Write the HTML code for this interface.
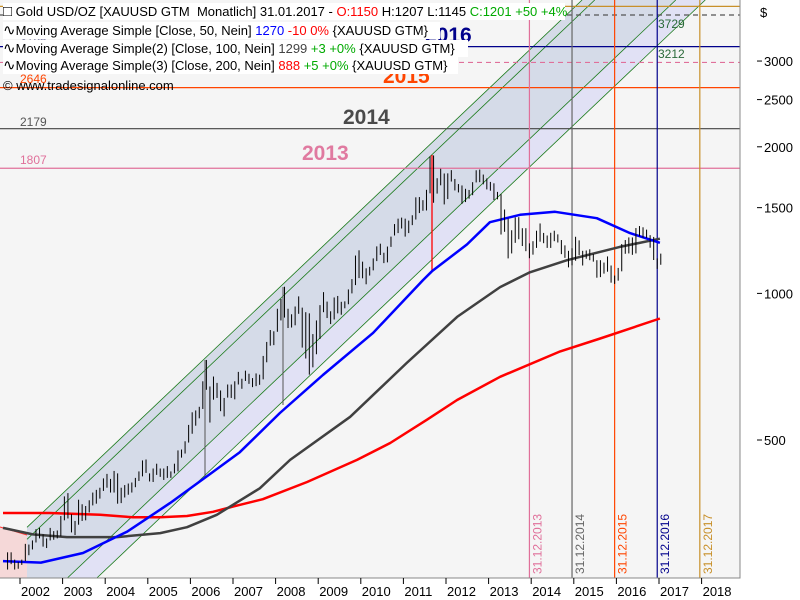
<!DOCTYPE html>
<html><head><meta charset="utf-8"><style>
html,body{margin:0;padding:0;background:#fff;width:800px;height:600px;overflow:hidden;position:relative;}
svg{display:block;font-family:"Liberation Sans",Arial,sans-serif;}
.ic{font-size:15px;}
</style></head><body>
<svg id="chart" width="800" height="600" viewBox="0 0 800 600" xmlns="http://www.w3.org/2000/svg">
<defs><clipPath id="plotclip"><rect x="0" y="0" width="740" height="578"/></clipPath></defs>
<rect x="0" y="0" width="800" height="600" fill="#ffffff"/>
<rect x="0" y="0" width="740" height="578" fill="#f5f5f5"/>
<g id="plot" clip-path="url(#plotclip)"></g>
<g id="axes"></g>
</svg>
<script>
// ---- data ----
var startYear = 2001, startMonth = 8; // Sep 2001 (0-based month)
var closes = [293,279,275,277,
282,297,302,308,326,318,304,312,324,317,318,347,
367,347,334,337,361,346,354,375,388,384,398,416,
400,396,423,388,394,395,391,408,416,428,452,438,
423,434,427,436,418,437,429,433,469,470,495,513,
568,556,582,654,643,613,633,624,599,604,646,632,
650,665,663,680,659,650,666,673,743,789,783,834,
923,972,916,865,885,930,912,834,884,730,815,869,
928,942,916,887,979,927,954,955,1008,1040,1182,1097,
1081,1118,1113,1179,1213,1244,1181,1248,1308,1357,1385,1421,
1332,1410,1439,1556,1536,1500,1628,1826,1620,1722,1746,1565,
1738,1697,1668,1664,1562,1604,1622,1690,1772,1719,1714,1675,
1663,1578,1595,1472,1393,1234,1313,1396,1326,1323,1253,1202,
1244,1326,1284,1296,1250,1327,1282,1287,1210,1172,1182,1199,
1279,1212,1183,1184,1190,1172,1095,1134,1115,1142,1065,1061,
1118,1238,1233,1292,1215,1321,1351,1309,1316,1277,1173,1146,
1201];
var opens0 = 273;
var highs = [294,294,284,281,
284,306,305,311,328,330,320,314,330,325,326,349,
383,389,352,341,377,369,366,376,390,395,399,417,
426,416,432,427,399,404,407,409,418,431,454,456,
427,437,447,437,437,442,431,447,476,478,497,537,
570,575,585,660,730,644,675,655,632,610,650,650,
660,690,668,694,684,670,685,681,744,795,841,836,
930,974,1032,930,906,940,986,935,915,910,825,880,
946,1006,962,919,981,988,961,963,1019,1070,1196,1226,
1162,1126,1134,1180,1249,1265,1212,1248,1308,1388,1424,1431,
1424,1411,1447,1575,1577,1554,1632,1911,1920,1724,1803,1763,
1764,1791,1718,1677,1666,1640,1631,1692,1790,1796,1754,1722,
1694,1683,1616,1599,1487,1424,1348,1433,1434,1361,1361,1267,
1280,1345,1392,1331,1315,1332,1345,1322,1287,1255,1223,1238,
1307,1285,1223,1225,1232,1205,1170,1170,1157,1191,1141,1088,
1128,1263,1287,1303,1303,1362,1375,1367,1352,1317,1306,1180,
1207];
var lows = [271,278,271,272,
277,282,290,298,308,314,302,300,311,312,314,317,
342,345,323,319,335,341,342,355,367,370,379,393,
399,390,390,370,371,381,386,390,400,412,421,428,
411,410,424,420,414,418,418,427,431,460,469,494,
515,535,554,579,634,543,605,610,573,559,611,610,
606,650,637,661,652,642,645,649,666,722,781,783,
834,880,892,849,851,860,908,774,735,681,705,750,
806,915,890,865,884,910,904,932,950,1000,1040,1075,
1074,1044,1088,1115,1165,1199,1154,1158,1246,1315,1330,1359,
1308,1330,1381,1418,1462,1478,1480,1605,1535,1603,1667,1523,
1562,1697,1627,1612,1527,1540,1565,1591,1690,1692,1675,1635,
1625,1555,1560,1321,1338,1180,1208,1270,1292,1251,1221,1181,
1201,1240,1277,1268,1240,1240,1280,1272,1204,1183,1131,1142,
1167,1198,1141,1178,1170,1162,1077,1080,1098,1108,1052,1046,
1062,1110,1206,1208,1200,1208,1310,1301,1301,1241,1171,1123,
1145];
var ma50Dates = [2001.60,2002.49,2003.48,2004.51,2005.52,2006.53,2007.16,2008.10,2009.11,2010.29,2011.46,2011.67,2012.49,2013.03,2013.74,2014.56,2015.54,2016.32,2017.02];
var ma50Values = [282,280,293,324,371,430,472,568,680,830,1065,1110,1260,1400,1450,1471,1427,1330,1270];
var ma100Dates = [2001.60,2002.30,2003.10,2004.28,2005.29,2005.92,2006.62,2007.63,2008.34,2009.75,2011.08,2012.26,2013.27,2013.97,2014.84,2016.08,2017.02];
var ma100Values = [330,320,316,316,322,331,351,398,455,558,720,895,1030,1105,1170,1246,1295];
var ma200Dates = [2001.60,2002.70,2003.88,2004.65,2005.29,2005.92,2006.53,2007.00,2007.70,2008.74,2009.91,2010.69,2011.55,2012.26,2013.27,2014.68,2015.62,2017.02];
var ma200Values = [354,354,351,347,347,349,356,365,378,410,455,493,550,604,674,760,808,888];
var yTicks = [3000,2500,2000,1500,1000,500];
var xTickYears = [2002,2003,2004,2005,2006,2007,2008,2009,2010,2011,2012,2013,2014,2015,2016,2017,2018];
var levelValues = [3885,3729,3212,2980,2646,2179,1807];
var levelColors = ["#c8902a","#555555","#00008b","#e0709a","#ff4500","#444444","#e0709a"];
var levelDash = ["","5,4","","5,4","","",""];
var dateLineYears = [2013,2014,2015,2016,2017];
var dateLineColors = ["#e0709a","#666666","#ff4500","#00008b","#c8902a"];

// ---- scales ----
function X(t){ return 20 + (t-2002)*42.6; }
function Y(v){ return 440 - 211.5*Math.log(v/500); }
var NS="http://www.w3.org/2000/svg";
function mk(tag, attrs, parent){ var e=document.createElementNS(NS,tag); for(var k in attrs) e.setAttribute(k,attrs[k]); parent.appendChild(e); return e; }
var plot=document.getElementById('plot'), axes=document.getElementById('axes');

// channel bands (kept inside plot y range 0..578)
var k=0.95, c1=553, c2=565, c3=642, c4=670, x0=27, yB=578;
function ly(c,x){return c-k*x;}
function xAt(c,y){return (c-y)/k;}
var dark=mk('polygon',{points:[x0,ly(c1,x0), xAt(c1,0),0, xAt(c3,0),0, xAt(c3,yB),yB, x0,yB].join(' '),fill:'#d5dbe8'},plot);


var lav=mk('polygon',{points:[xAt(c3,yB),yB, xAt(c3,0),0, xAt(c4,0),0, xAt(c4,yB),yB].join(' '),fill:'#e1e1f5'},plot);


var pinkR=mk('polygon',{points:'0,527 27,535 27,578 0,578',fill:'#f5d8d8'},plot);


var pinkL=mk('line',{x1:0,y1:527,x2:27,y2:535,stroke:'#ff3030','stroke-width':1},plot);


[c1,c2,c3,c4].forEach(function(c,i){
  var xs=Math.max(x0,xAt(c,yB)), xe=xAt(c,0);
  var l=mk('line',{x1:xs,y1:ly(c,xs),x2:xe,y2:0,stroke:'#1a7a1a','stroke-width':0.8},plot);
  
  
});

// horizontal levels
levelValues.forEach(function(v,i){
  var a={x1:0,y1:Y(v),x2:740,y2:Y(v),stroke:levelColors[i],'stroke-width':1.2};
  if(levelDash[i]) a['stroke-dasharray']=levelDash[i];
  var l=mk('line',a,plot);
  
  
});
// vertical date lines
dateLineYears.forEach(function(yr,i){
  var x=X(yr+11.5/12);
  var l=mk('line',{x1:x,y1:0,x2:x,y2:578,stroke:dateLineColors[i],'stroke-width':1.2},plot);
  
  
  var t=mk('text',{x:0,y:0,transform:'translate('+(x+12)+',574) rotate(-90)','font-size':12,fill:dateLineColors[i]},plot);
  t.textContent='31.12.'+yr;
  
  
});
// annotation verticals
var r1=mk('line',{x1:432,y1:155,x2:432,y2:272,stroke:'#ff0000','stroke-width':1.3},plot);


var r2=mk('line',{x1:283,y1:287,x2:283,y2:405,stroke:'#555','stroke-width':1},plot);


var r3=mk('line',{x1:205,y1:360,x2:205,y2:478,stroke:'#555','stroke-width':1},plot);



// moving averages
function maPath(d,v,color,name,w){
  var s=''; for(var i=0;i<d.length;i++){ s+=(i?'L':'M')+X(d[i]).toFixed(1)+','+Y(v[i]).toFixed(1); }
  var p=mk('path',{d:s,fill:'none',stroke:color,'stroke-width':w,'stroke-linejoin':'round'},plot);
  
  
}
maPath(ma200Dates,ma200Values,'#ff0000','ma200-line',2.5);
maPath(ma100Dates,ma100Values,'#404040','ma100-line',2.5);
maPath(ma50Dates,ma50Values,'#0000ff','ma50-line',2.5);

// candles
for(var i=0;i<closes.length;i++){
  var t=startYear+(startMonth+i+0.5)/12, x=X(t);
  var o=i?closes[i-1]:opens0; if(i==closes.length-1) o=1150;
  var c=closes[i], up=c>=o;
  var g=mk('g',{},plot);
  
  
  mk('line',{x1:x,y1:Y(highs[i]),x2:x,y2:Math.min(577,Y(lows[i])),stroke:'#000','stroke-width':1},g);
  var top=Y(Math.max(o,c)), bot=Math.min(577,Y(Math.min(o,c)));
  mk('rect',{x:x-2,y:top,width:4,height:Math.max(1,bot-top),fill:up?'#ffffff':'#111111',stroke:'#000','stroke-width':1},g);
}

// big year labels
[['2013',302,160,'#e07aa0'],['2014',343,124,'#4a4a4a'],['2015',383,83,'#ff4500'],['2016',425,42,'#00008b']].forEach(function(a){
  var t=mk('text',{x:a[1],y:a[2],'font-size':21,'font-weight':'bold',fill:a[3]},plot);
  t.textContent=a[0];
  
  
});
[['2179',20,126,'#555'],['1807',20,164,'#e0709a'],['3729',658,28,'#2a6a3a'],['3212',658,58,'#2a6a3a'],['3195',20,44,'#8888aa'],['2964',20,62,'#e0709a'],['2646',20,83,'#ff4500']].forEach(function(a){
  var t=mk('text',{x:a[1],y:a[2],'font-size':12,fill:a[3]},plot);
  t.textContent=a[0];
  
  
});

// axes
var ax=mk('path',{d:'M740,0V578H0',fill:'none',stroke:'#888','stroke-width':1},axes);


yTicks.forEach(function(v){
  var y=Y(v);
  var l=mk('line',{x1:757,y1:y,x2:762,y2:y,stroke:'#000'},axes);
  
  
  var t=mk('text',{x:764,y:y+5,'font-size':13,fill:'#000'},axes);
  t.textContent=v;
  
  
});
var dl=mk('text',{x:760,y:17,'font-size':13,fill:'#000'},axes); dl.textContent='$';


xTickYears.forEach(function(yr){
  var x=X(yr);
  var l=mk('line',{x1:x,y1:578,x2:x,y2:584,stroke:'#000'},axes);
  
  
  var t=mk('text',{x:x+1,y:596,'font-size':13,fill:'#000'},axes);
  t.textContent=yr;
  
  
});
</script>
<div style="position:absolute;left:0;top:0;width:0;height:0;font-family:'Liberation Sans',Arial,sans-serif;font-size:13px;line-height:17px;color:#000;">
 <div style="position:absolute;left:3px;top:3px;width:562px;height:17px;background:#fff;white-space:nowrap;"><span class="ic">&#9633;</span>&nbsp;Gold USD/OZ [XAUUSD GTM&nbsp; Monatlich] 31.01.2017 - <span style="color:#f00">O:1150</span> H:1207 L:1145 <span style="color:#0a0">C:1201 +50 +4%</span></div>
 <div style="position:absolute;left:3px;top:22px;width:437px;height:17px;background:#fff;white-space:nowrap;"><span class="ic">∿</span>Moving Average Simple [Close, 50, Nein] <span style="color:#00f">1270</span> <span style="color:#f00">-10 0%</span> {XAUUSD GTM}</div>
 <div style="position:absolute;left:3px;top:40px;width:465px;height:17px;background:#fff;white-space:nowrap;"><span class="ic">∿</span>Moving Average Simple(2) [Close, 100, Nein] <span style="color:#444">1299</span> <span style="color:#0a0">+3 +0%</span> {XAUUSD GTM}</div>
 <div style="position:absolute;left:3px;top:57px;width:455px;height:17px;background:#fff;white-space:nowrap;"><span class="ic">∿</span>Moving Average Simple(3) [Close, 200, Nein] <span style="color:#f00">888</span> <span style="color:#0a0">+5 +0%</span> {XAUUSD GTM}</div>
 <div style="position:absolute;left:3px;top:77px;white-space:nowrap;">© www.tradesignalonline.com</div>
</div>
</body></html>
